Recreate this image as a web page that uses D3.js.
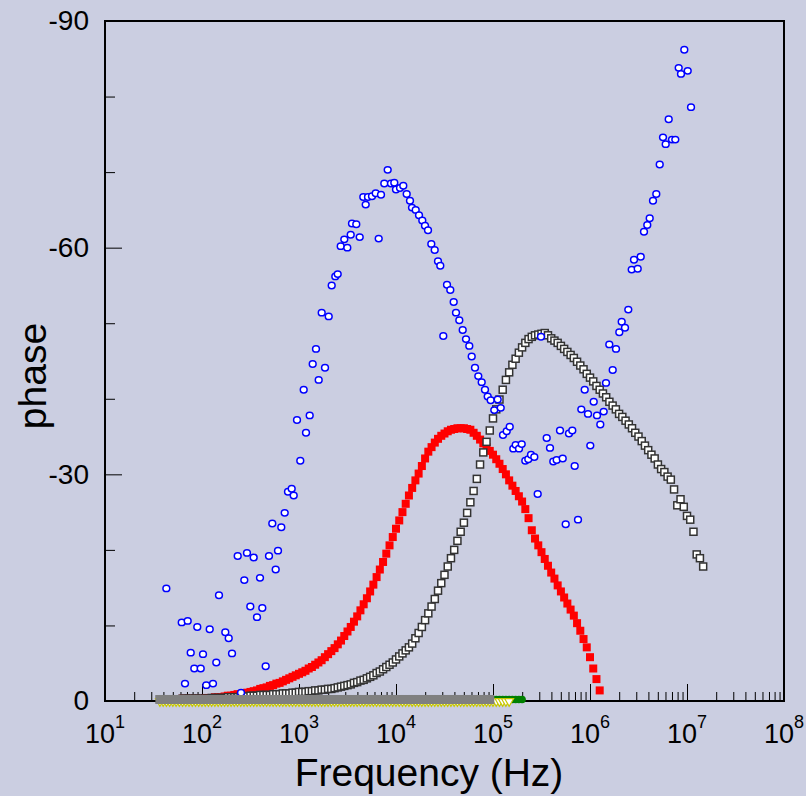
<!DOCTYPE html>
<html>
<head>
<meta charset="utf-8">
<script src="https://cdn.jsdelivr.net/npm/d3@7/dist/d3.min.js"></script>
<style>
  body { margin: 0; background: #cbcee1; }
  svg { display: block; font-family: "Liberation Sans", Arial, sans-serif; }
</style>
</head>
<body>
<div class="chart"></div>
<script>
// frequency sweep (Hz), 30 points per decade, starts at 36.87 Hz
var freq = [36.87, 39.81, 42.99, 46.42, 50.12, 54.12, 58.43, 63.10, 68.13, 73.56, 79.43, 85.77, 92.61,
  100, 108.0, 116.6, 125.9, 135.9, 146.8, 158.5, 171.1, 184.8, 199.5, 215.4, 232.6, 251.2, 271.2, 292.9, 316.2, 341.5, 368.7, 398.1, 429.9, 464.2, 501.2, 541.2, 584.3, 631.0, 681.3, 735.6, 794.3, 857.7, 926.1,
  1000, 1080, 1166, 1259, 1359, 1468, 1585, 1711, 1848, 1995, 2154, 2326, 2512, 2712, 2929, 3162, 3415, 3687, 3981, 4299, 4642, 5012, 5412, 5843, 6310, 6813, 7356, 7943, 8577, 9261,
  1.000e4, 1.080e4, 1.166e4, 1.259e4, 1.359e4, 1.468e4, 1.585e4, 1.711e4, 1.848e4, 1.995e4, 2.154e4, 2.326e4, 2.512e4, 2.712e4, 2.929e4, 3.162e4, 3.415e4, 3.687e4, 3.981e4, 4.299e4, 4.642e4, 5.012e4, 5.412e4, 5.843e4, 6.310e4, 6.813e4, 7.356e4, 7.943e4, 8.577e4, 9.261e4,
  1.000e5, 1.080e5, 1.166e5, 1.259e5, 1.359e5, 1.468e5, 1.585e5, 1.711e5, 1.848e5, 1.995e5, 2.154e5, 2.326e5, 2.512e5, 2.712e5, 2.929e5, 3.162e5, 3.415e5, 3.687e5, 3.981e5, 4.299e5, 4.642e5, 5.012e5, 5.412e5, 5.843e5, 6.310e5, 6.813e5, 7.356e5, 7.943e5, 8.577e5, 9.261e5,
  1.000e6, 1.080e6, 1.166e6, 1.259e6, 1.359e6, 1.468e6, 1.585e6, 1.711e6, 1.848e6, 1.995e6, 2.154e6, 2.326e6, 2.512e6, 2.712e6, 2.929e6, 3.162e6, 3.415e6, 3.687e6, 3.981e6, 4.299e6, 4.642e6, 5.012e6, 5.412e6, 5.843e6, 6.310e6, 6.813e6, 7.356e6, 7.943e6, 8.577e6, 9.261e6,
  1.000e7, 1.080e7, 1.166e7, 1.259e7, 1.359e7, 1.468e7, 1.585e7]

// red filled squares, start at freq[3]
var redStart = 3
var phaseRed = [-0.2, -0.2, -0.2, -0.2, -0.3, -0.3, -0.3, -0.3, -0.3, -0.3,
  -0.3, -0.4, -0.4, -0.4, -0.5, -0.5, -0.5, -0.6, -0.7, -0.7,
  -0.8, -0.9, -0.9, -1.0, -1.1, -1.2, -1.3, -1.4, -1.6, -1.7,
  -1.8, -2.0, -2.1, -2.3, -2.4, -2.6, -2.8, -3.0, -3.2, -3.4,
  -3.6, -3.8, -4.0, -4.3, -4.5, -4.8, -5.1, -5.4, -5.8, -6.2,
  -6.6, -7.0, -7.5, -8.0, -8.6, -9.2, -9.8, -10.5, -11.2, -12.0,
  -12.8, -13.6, -14.5, -15.4, -16.4, -17.4, -18.4, -19.5, -20.6, -21.7,
  -22.8, -23.9, -25.0, -26.1, -27.2, -28.2, -29.2, -30.1, -31.1, -32.1,
  -33.0, -33.6, -34.2, -34.7, -35.1, -35.4, -35.7, -35.9, -36.0, -36.1,
  -36.1, -36.1, -36.0, -35.9, -35.5, -35.1, -34.6, -34.1, -33.6, -33.1,
  -32.6, -32.0, -31.4, -30.7, -30.0, -29.2, -28.5, -27.8, -27.1, -26.4,
  -25.4, -24.2, -22.6, -21.5, -20.6, -19.7, -18.8, -17.9, -17.0, -16.2,
  -15.3, -14.5, -13.7, -12.9, -12.1, -11.3, -10.3, -9.3, -8.2, -7.1,
  -5.8, -4.3, -2.9, -1.4]

// open black squares, start at freq[0]
var blackStart = 0
var phaseBlack = [-0.2, -0.2, -0.2, -0.2, -0.2, -0.2, -0.2, -0.3, -0.3, -0.3,
  -0.3, -0.3, -0.3, -0.3, -0.3, -0.3, -0.4, -0.4, -0.4, -0.4,
  -0.4, -0.5, -0.5, -0.5, -0.5, -0.6, -0.6, -0.6, -0.7, -0.7,
  -0.7, -0.8, -0.8, -0.8, -0.8, -0.9, -0.9, -0.9, -1.0, -1.0,
  -1.0, -1.1, -1.1, -1.2, -1.2, -1.2, -1.3, -1.3, -1.4, -1.4,
  -1.5, -1.5, -1.6, -1.6, -1.7, -1.8, -1.9, -2.0, -2.1, -2.2,
  -2.4, -2.5, -2.7, -2.8, -3.0, -3.2, -3.4, -3.7, -3.9, -4.2,
  -4.5, -4.8, -5.1, -5.5, -5.9, -6.3, -6.7, -7.1, -7.6, -8.3,
  -9.0, -9.8, -10.7, -11.6, -12.5, -13.5, -14.6, -15.6, -16.7, -17.8,
  -18.9, -20.0, -21.2, -22.4, -23.6, -24.9, -26.3, -27.8, -29.4, -31.3,
  -32.9, -34.3, -35.8, -37.4, -38.6, -39.9, -41.2, -42.5, -43.5, -44.5,
  -45.3, -46.1, -46.8, -47.4, -47.9, -48.2, -48.4, -48.5, -48.6, -48.7,
  -48.4, -48.0, -47.7, -47.4, -47.0, -46.6, -46.2, -45.8, -45.4, -44.9,
  -44.4, -43.9, -43.3, -42.8, -42.3, -41.7, -41.2, -40.7, -40.2, -39.6,
  -39.1, -38.6, -38.0, -37.6, -37.1, -36.6, -36.1, -35.5, -35.0, -34.4,
  -33.8, -33.2, -32.6, -32.1, -31.3, -30.7, -30.3, -29.7, -29.3, -28.0,
  -25.9, -26.7, -25.7, -24.5, -24.0, -22.4, -19.4, -18.9, -17.8]

// near-zero series, all start at freq[0]
var phaseGreen = [-0.3, -0.3, -0.3, -0.3, -0.3, -0.3, -0.3, -0.3, -0.3, -0.3,
  -0.3, -0.3, -0.3, -0.3, -0.3, -0.3, -0.3, -0.3, -0.3, -0.3,
  -0.3, -0.3, -0.3, -0.3, -0.3, -0.3, -0.3, -0.3, -0.3, -0.3,
  -0.3, -0.3, -0.3, -0.3, -0.3, -0.3, -0.3, -0.3, -0.3, -0.3,
  -0.3, -0.3, -0.3, -0.3, -0.3, -0.3, -0.3, -0.3, -0.3, -0.3,
  -0.3, -0.3, -0.3, -0.3, -0.3, -0.3, -0.3, -0.3, -0.3, -0.3,
  -0.3, -0.3, -0.3, -0.3, -0.3, -0.3, -0.3, -0.3, -0.3, -0.3,
  -0.3, -0.3, -0.3, -0.3, -0.3, -0.3, -0.3, -0.3, -0.3, -0.3,
  -0.3, -0.3, -0.3, -0.3, -0.3, -0.3, -0.3, -0.3, -0.3, -0.3,
  -0.3, -0.3, -0.3, -0.3, -0.3, -0.3, -0.3, -0.3, -0.3, -0.3,
  -0.2, -0.2, -0.2, -0.2, -0.2, -0.2, -0.2, -0.2, -0.2, -0.2,
  -0.2, -0.2, -0.2]
var phaseYellow = [-0.1, -0.1, -0.1, -0.1, -0.1, -0.1, -0.1, -0.1, -0.1, -0.1,
  -0.1, -0.1, -0.1, -0.1, -0.1, -0.1, -0.1, -0.1, -0.1, -0.1,
  -0.1, -0.1, -0.1, -0.1, -0.1, -0.1, -0.1, -0.1, -0.1, -0.1,
  -0.1, -0.1, -0.1, -0.1, -0.1, -0.1, -0.1, -0.1, -0.1, -0.1,
  -0.1, -0.1, -0.1, -0.1, -0.1, -0.1, -0.1, -0.1, -0.1, -0.1,
  -0.1, -0.1, -0.1, -0.1, -0.1, -0.1, -0.1, -0.1, -0.1, -0.1,
  -0.1, -0.1, -0.1, -0.1, -0.1, -0.1, -0.1, -0.1, -0.1, -0.1,
  -0.1, -0.1, -0.1, -0.1, -0.1, -0.1, -0.1, -0.1, -0.1, -0.1,
  -0.1, -0.1, -0.1, -0.1, -0.1, -0.1, -0.1, -0.1, -0.1, -0.1,
  -0.1, -0.1, -0.1, -0.1, -0.1, -0.1, -0.1, -0.1, -0.1, -0.1,
  -0.1, -0.1, -0.1, -0.1, -0.1, -0.1, -0.1, -0.1, -0.1]
var phaseGray = [-0.2, -0.2, -0.2, -0.2, -0.2, -0.2, -0.2, -0.2, -0.2, -0.2,
  -0.2, -0.2, -0.2, -0.2, -0.2, -0.2, -0.2, -0.2, -0.2, -0.2,
  -0.2, -0.2, -0.2, -0.2, -0.2, -0.2, -0.2, -0.2, -0.2, -0.2,
  -0.2, -0.2, -0.2, -0.2, -0.2, -0.2, -0.2, -0.2, -0.2, -0.2,
  -0.2, -0.2, -0.2, -0.2, -0.2, -0.2, -0.2, -0.2, -0.2, -0.2,
  -0.2, -0.2, -0.2, -0.2, -0.2, -0.2, -0.2, -0.2, -0.2, -0.2,
  -0.2, -0.2, -0.2, -0.2, -0.2, -0.2, -0.2, -0.2, -0.2, -0.2,
  -0.2, -0.2, -0.2, -0.2, -0.2, -0.2, -0.2, -0.2, -0.2, -0.2,
  -0.2, -0.2, -0.2, -0.2, -0.2, -0.2, -0.2, -0.2, -0.2, -0.2,
  -0.2, -0.2, -0.2, -0.2, -0.2, -0.2, -0.2, -0.2, -0.2, -0.2,
  -0.2, -0.2, -0.2]

// blue open circles (own frequencies, scattered)
var freqBlue = [42.9, 61.8, 66.8, 71.2, 76.5, 83.3, 89.4, 97.0, 102.4, 110.7,
  120.1, 129.8, 140.4, 149.7, 173.9, 188.5, 203.9, 233.4, 252.5, 273.0,
  290.9, 314.8, 341.2, 369.0, 396.2, 418.4, 453.5, 490.6, 530.5, 575.1,
  607.4, 656.9, 712.2, 770.1, 840.6, 881.7, 953.7, 1031, 1118, 1181,
  1289, 1384, 1497, 1596, 1714, 1854, 2024, 2173, 2367, 2506,
  2691, 2931, 3148, 3412, 3518, 3896, 4225, 4602, 4871, 5143,
  5657, 6177, 6632, 7005, 7576, 8211, 8882, 9605, 10000, 11000,
  11890, 12890, 13940, 14620, 15960, 17270, 18670, 19910, 21380, 23120,
  25060, 27100, 28620, 30730, 33560, 36290, 39330, 41550, 44940, 48710,
  52680, 56970, 60310, 65220, 70550, 76460, 82680, 88190, 94690, 1.031e5,
  1.118e5, 1.201e5, 1.268e5, 1.384e5, 1.487e5, 1.619e5, 1.714e5, 1.854e5, 1.977e5, 2.153e5,
  2.312e5, 2.465e5, 2.666e5, 2.889e5, 3.125e5, 3.578e5, 3.869e5, 4.184e5, 4.535e5, 4.906e5,
  5.232e5, 5.617e5, 6.074e5, 6.569e5, 6.955e5, 7.521e5, 8.135e5, 8.819e5, 9.537e5, 1.007e6,
  1.092e6, 1.181e6, 1.277e6, 1.384e6, 1.462e6, 1.581e6, 1.714e6, 1.854e6, 2.005e6, 2.122e6,
  2.295e6, 2.482e6, 2.691e6, 2.842e6, 3.103e6, 3.332e6, 3.603e6, 3.896e6, 4.125e6, 4.461e6,
  4.825e6, 5.232e6, 5.657e6, 6.031e6, 6.475e6, 7.005e6, 7.576e6, 8.211e6, 8.672e6, 9.380e6,
  1.017e7, 1.100e7]
var phaseBlue = [-14.9, -10.4, -2.3, -10.6, -6.4, -4.3, -9.8, -4.3, -6.2, -2.1,
  -9.5, -2.3, -5.1, -14.0, -9.1, -8.3, -6.3, -19.2, -1.1, -16.0,
  -19.6, -12.5, -19.0, -11.1, -16.3, -12.3, -4.6, -19.2, -23.5, -17.4,
  -19.9, -23.0, -24.9, -27.7, -28.1, -27.2, -37.2, -31.8, -41.2, -35.5,
  -37.8, -44.6, -46.6, -42.5, -51.4, -44.1, -50.9, -55.0, -56.2, -56.5,
  -60.2, -61.1, -60.0, -61.7, -63.2, -63.1, -61.4, -66.7, -65.7, -66.7,
  -66.8, -67.2, -61.2, -67.0, -68.5, -70.3, -68.5, -68.6, -67.7, -67.9,
  -68.2, -67.1, -66.2, -65.3, -65.0, -64.3, -63.6, -62.9, -62.3, -60.5,
  -59.7, -58.2, -57.6, -48.3, -55.1, -54.4, -52.8, -51.4, -50.4, -49.1,
  -47.9, -47.0, -45.6, -44.1, -43.0, -42.2, -41.2, -40.3, -39.8, -38.5,
  -39.9, -38.8, -35.2, -35.7, -36.3, -33.4, -33.9, -33.4, -34.0, -31.8,
  -32.0, -32.6, -32.3, -27.4, -48.2, -34.8, -33.5, -31.7, -31.9, -35.8,
  -32.1, -23.4, -35.4, -35.8, -31.1, -24.0, -38.6, -41.2, -38.0, -33.8,
  -39.6, -37.8, -36.6, -38.3, -42.1, -47.2, -43.8, -46.6, -48.8, -50.2,
  -49.4, -51.8, -57.1, -58.4, -57.2, -58.8, -62.1, -63.0, -63.9, -66.2,
  -67.1, -71.0, -74.6, -73.7, -77.0, -74.3, -74.3, -83.8, -83.0, -86.2,
  -83.4, -78.6]

var xMajor = [1e1, 1e2, 1e3, 1e4, 1e5, 1e6, 1e7, 1e8]
var xExp = ["1", "2", "3", "4", "5", "6", "7", "8"]
var yMajor = [0, -30, -60, -90]
var yMinor = [-10, -20, -40, -50, -70, -80]

// set the dimensions of the graph
var width = 806,
    height = 796,
    plotL = 105, plotR = 784, plotT = 21, plotB = 701

var svg = d3.select(".chart")
  .append("svg")
    .attr("width", width)
    .attr("height", height)

svg.append("rect")
  .attr("width", width).attr("height", height)
  .attr("fill", "#cbcee1")

var x = d3.scaleLog().domain([10, 1e8]).range([plotL, plotR])
var y = d3.scaleLinear().domain([0, -90]).range([plotB, plotT])

// frame (drawn first, the markers sit on top of it)
svg.append("rect")
  .attr("x", plotL).attr("y", plotT)
  .attr("width", plotR - plotL).attr("height", plotB - plotT)
  .attr("fill", "none")
  .attr("stroke", "#000")
  .attr("stroke-width", 2)

// minor ticks on the log axis: 2..9 in each decade
var xMinor = []
xMajor.slice(0, -1).forEach(function(d) {
  for (var m = 2; m < 10; m++) xMinor.push(d * m)
})

// ticks point into the plot
svg.append("g")
  .attr("transform", "translate(0," + plotB + ")")
  .call(d3.axisBottom(x).tickValues(xMinor).tickSize(-9).tickSizeOuter(0).tickFormat(""))
svg.append("g")
  .attr("transform", "translate(0," + plotB + ")")
  .call(d3.axisBottom(x).tickValues(xMajor).tickSize(-17).tickSizeOuter(0).tickFormat(""))
svg.append("g")
  .attr("transform", "translate(" + plotL + ",0)")
  .call(d3.axisLeft(y).tickValues(yMinor).tickSize(-10).tickSizeOuter(0).tickFormat(""))
var yAxis = svg.append("g")
  .attr("transform", "translate(" + plotL + ",0)")
  .call(d3.axisLeft(y).tickValues(yMajor).tickSize(-17).tickSizeOuter(0).tickPadding(16)
    .tickFormat(function(d) { return String(d) }))
yAxis.selectAll("text")
  .style("font-size", "28px")
  .style("font-family", "'Liberation Sans', Arial, sans-serif")
  .attr("fill", "#000")
svg.selectAll(".domain").remove()
svg.selectAll(".tick line").attr("stroke", "#000").attr("stroke-width", 1)

// x tick labels 10^n
var xl = svg.append("g").selectAll("text")
  .data(xMajor)
  .enter()
  .append("text")
    .attr("x", function(d) { return x(d) })
    .attr("y", 743)
    .attr("text-anchor", "middle")
    .style("font-size", "27px")
xl.append("tspan").text("10")
xl.append("tspan")
  .attr("dy", -15)
  .style("font-size", "18px")
  .text(function(d, i) { return xExp[i] })

function series(start, phases) {
  return phases.map(function(p, k) { return {f: freq[start + k], p: p} })
}

var plot = svg.append("g")

// red filled squares
plot.selectAll("rect.red")
  .data(series(redStart, phaseRed))
  .enter()
  .append("rect")
    .attr("class", "red")
    .attr("x", function(d) { return x(d.f) - 4 })
    .attr("y", function(d) { return y(d.p) - 4 })
    .attr("width", 8).attr("height", 8)
    .attr("fill", "#ff0000")

// open black squares
plot.selectAll("rect.blk")
  .data(series(blackStart, phaseBlack))
  .enter()
  .append("rect")
    .attr("class", "blk")
    .attr("x", function(d) { return x(d.f) - 3.5 })
    .attr("y", function(d) { return y(d.p) - 3.5 })
    .attr("width", 7).attr("height", 7)
    .attr("fill", "#ffffff")
    .attr("stroke", "#333333")
    .attr("stroke-width", 1.5)

// blue open circles
var blue = freqBlue.map(function(f, i) { return {f: f, p: phaseBlue[i]} })
plot.selectAll("ellipse.blue")
  .data(blue)
  .enter()
  .append("ellipse")
    .attr("cx", function(d) { return x(d.f) })
    .attr("cy", function(d) { return y(d.p) })
    .attr("rx", 3.4).attr("ry", 3.2)
    .attr("fill", "#ffffff")
    .attr("stroke", "#0000ff")
    .attr("stroke-width", 1.5)

// near-zero series
plot.selectAll("circle.green")
  .data(series(0, phaseGreen))
  .enter()
  .append("circle")
    .attr("cx", function(d) { return x(d.f) })
    .attr("cy", function(d) { return y(d.p) })
    .attr("r", 3.8)
    .attr("fill", "#008000")

var tri = d3.symbol().type(d3.symbolTriangle).size(34)
plot.selectAll("path.yel")
  .data(series(0, phaseYellow))
  .enter()
  .append("path")
    .attr("d", tri)
    .attr("transform", function(d) { return "translate(" + x(d.f) + "," + (y(d.p) + 1) + ") rotate(180)" })
    .attr("fill", "#ffffff")
    .attr("stroke", "#c8c800")
    .attr("stroke-width", 1.2)

plot.selectAll("rect.gray")
  .data(series(0, phaseGray))
  .enter()
  .append("rect")
    .attr("x", function(d) { return x(d.f) - 4.5 })
    .attr("y", function(d) { return y(d.p) - 4.5 })
    .attr("width", 9).attr("height", 9)
    .attr("fill", "#808080")

// axis titles
svg.append("text")
  .attr("x", 429)
  .attr("y", 786)
  .attr("text-anchor", "middle")
  .style("font-size", "39px")
  .text("Frequency (Hz)")

svg.append("text")
  .attr("transform", "translate(46,376) rotate(-90)")
  .attr("text-anchor", "middle")
  .style("font-size", "39px")
  .text("phase")
</script>
</body>
</html>
